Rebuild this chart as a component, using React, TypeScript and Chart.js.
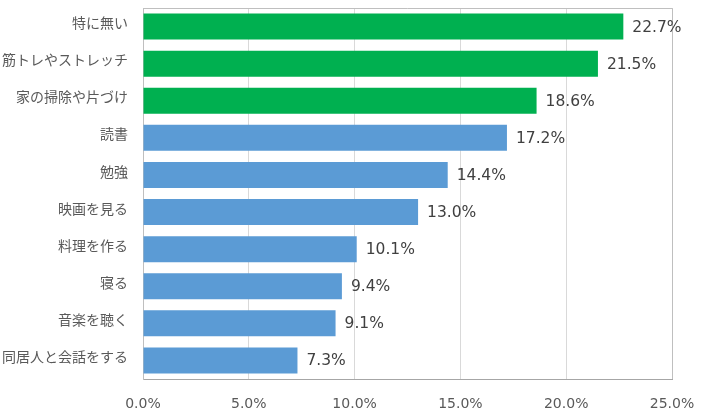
import React, { useEffect, useRef } from "react";
import { Chart, registerables } from "chart.js";

Chart.register(...registerables);

const categories = [
  "特に無い",
  "筋トレやストレッチ",
  "家の掃除や片づけ",
  "読書",
  "勉強",
  "映画を見る",
  "料理を作る",
  "寝る",
  "音楽を聴く",
  "同居人と会話をする",
];
const values = [22.7, 21.5, 18.6, 17.2, 14.4, 13.0, 10.1, 9.4, 9.1, 7.3];
const highlightCount = 3;
const xTicks = [0, 5, 10, 15, 20, 25];

const GREEN = "#00B050";
const BLUE = "#5B9BD5";
const FONT = "'DejaVu Sans', 'Noto Sans CJK JP', sans-serif";

const labelPlugin = {
  id: "barLabels",
  afterDatasetsDraw(chart: any) {
    const { ctx } = chart;
    const meta = chart.getDatasetMeta(0);
    ctx.save();
    ctx.font = `15.5px ${FONT}`;
    ctx.fillStyle = "#404040";
    ctx.textAlign = "left";
    ctx.textBaseline = "middle";
    meta.data.forEach((bar: any, i: number) => {
      ctx.fillText(values[i].toFixed(1) + "%", bar.x + 9, bar.y + 1);
    });
    ctx.restore();
  },
};

const borderPlugin = {
  id: "plotBorder",
  beforeDatasetsDraw(chart: any) {
    const { ctx, chartArea } = chart;
    ctx.save();
    ctx.strokeStyle = "#BFBFBF";
    ctx.lineWidth = 1;
    ctx.beginPath();
    ctx.moveTo(chartArea.left, chartArea.top + 0.5);
    ctx.lineTo(chartArea.right + 0.5, chartArea.top + 0.5);
    ctx.lineTo(chartArea.right + 0.5, chartArea.bottom);
    ctx.stroke();
    ctx.restore();
  },
};

export default function App() {
  const ref = useRef<HTMLCanvasElement>(null);
  useEffect(() => {
    document.body.style.margin = "0";
    const chart = new Chart(ref.current!, {
      type: "bar",
      data: {
        labels: categories,
        datasets: [
          {
            data: values,
            backgroundColor: values.map((_, i) => (i < highlightCount ? GREEN : BLUE)),
            categoryPercentage: 1,
            barPercentage: 0.7,
          },
        ],
      },
      options: {
        indexAxis: "y",
        animation: false,
        responsive: false,
        maintainAspectRatio: false,
        layout: { padding: { top: 8, right: 32, bottom: 0, left: 0 } },
        plugins: { legend: { display: false }, tooltip: { enabled: false } },
        scales: {
          x: {
            min: 0,
            max: 25,
            afterBuildTicks: (scale: any) => {
              scale.ticks = xTicks.map((v) => ({ value: v }));
            },
            afterFit: (scale: any) => {
              scale.height = 40;
              scale.paddingLeft = 0;
              scale.paddingRight = 0;
            },
            ticks: {
              callback: (v: any) => Number(v).toFixed(1) + "%",
              font: { family: FONT, size: 14 },
              color: "#595959",
              padding: 17,
              maxRotation: 0,
            },
            grid: { color: "#D9D9D9", drawTicks: false },
            border: { display: true, color: "#A6A6A6" },
          },
          y: {
            afterFit: (scale: any) => {
              scale.width = 143;
              scale.paddingTop = 0;
              scale.paddingBottom = 0;
            },
            ticks: {
              font: { family: FONT, size: 14 },
              color: "#595959",
              padding: 15,
              labelOffset: -2,
            },
            grid: { display: false, drawTicks: false },
            border: { display: true, color: "#BFBFBF" },
          },
        },
      },
      plugins: [labelPlugin, borderPlugin],
    });
    return () => chart.destroy();
  }, []);
  return <canvas ref={ref} width={704} height={419} style={{ display: "block" }} />;
}
